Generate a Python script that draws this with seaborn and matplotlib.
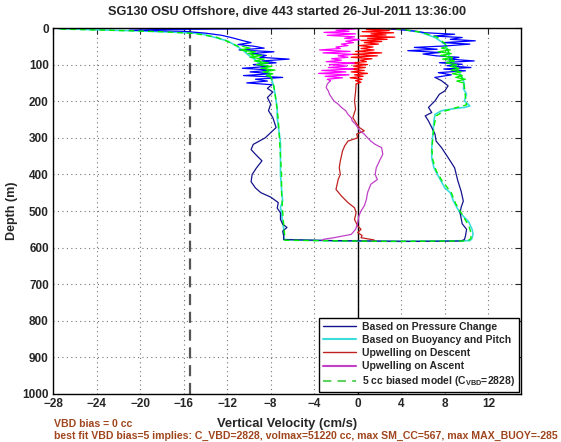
import matplotlib
matplotlib.use("Agg")
import matplotlib.pyplot as plt
import seaborn as sns
from matplotlib.lines import Line2D

# --- data (depth in m, vertical velocity in cm/s) ---

# pressure-change velocity: noisy upper descent, smooth lower loop, noisy upper ascent
blue_dn_top_d = [0.5, 2, 4, 6, 9, 14, 20, 27, 35, 40, 45, 50, 55, 60, 65, 70, 75, 80, 85, 90,
                 95, 100, 105, 110, 115, 120, 125, 130, 135, 140, 145, 150, 155]
blue_dn_top_v = [-2, -9, -18, -21, -16, -14, -12.5, -11.5, -10.5, -9.8, -11.0, -9.5, -8.6, -10.9,
                 -7.7, -9.8, -8.4, -9.0, -6.3, -8.8, -7.5, -9.6, -8.2, -10.6, -7.9, -9.9, -8.0,
                 -10.5, -6.9, -9.4, -8.3, -10.2, -7.9]
blue_lo_d = [155, 165, 175, 190, 208, 226, 245, 272, 300, 318, 332, 345, 363, 382, 400, 420, 437,
             450, 462, 477, 492, 505, 523, 536, 545, 555, 568, 578, 581, 583, 582, 578, 568, 550,
             535, 520, 505, 490, 473, 446, 418, 382, 354, 327, 309, 290, 272, 254, 240, 231, 217,
             199, 181, 172, 158, 144, 135]
blue_lo_v = [-7.9, -8.3, -7.8, -8.3, -8.0, -8.2, -7.8, -7.5, -8.5, -9.6, -9.8, -9.4, -8.8, -9.3,
             -9.7, -9.8, -9.4, -8.9, -8.0, -7.3, -7.4, -7.1, -7.1, -6.9, -6.5, -6.9, -6.8, -6.8,
             -2.0, 5.0, 9.5, 9.8, 9.9, 10.0, 9.6, 9.5, 9.4, 9.5, 9.7, 9.5, 9.2, 8.9, 8.3, 7.7,
             7.2, 7.1, 6.8, 6.5, 6.2, 6.8, 6.5, 7.1, 7.5, 8.0, 8.3, 7.7, 7.1]
blue_up_top_d = [135, 128, 122, 117, 112, 108, 103, 99, 95, 90, 85, 80, 76, 71, 67, 62, 58, 53,
                 49, 44, 40, 35, 31, 26, 22, 17, 13, 9, 5, 2, 0.5]
blue_up_top_v = [7.1, 8.6, 7.4, 9.9, 7.9, 10.4, 8.2, 9.6, 7.5, 10.7, 8.4, 9.3, 7.2, 6.0, 7.6,
                 4.6, 7.3, 5.2, 8.1, 10.3, 7.8, 10.8, 8.5, 9.6, 7.0, 8.9, 6.2, 5.4, 4.0, 2.5, 0.5]

# buoyancy-and-pitch velocity
cyan_d = [2, 3, 5, 8, 12, 15, 25, 35, 48, 62, 75, 85, 97, 108, 122, 135, 150, 163, 180, 199,
          220, 245, 270, 290, 315, 336, 370, 400, 440, 473, 490, 505, 530, 550, 565, 578, 582,
          583, 581, 575, 562, 550, 530, 505, 490, 473, 450, 437, 410, 382, 356, 327, 290, 254,
          236, 226, 220, 217, 213, 199, 181, 165, 153, 135, 117, 99, 80, 62, 44, 26, 12, 3, 1]
cyan_v = [-27.5, -26, -24, -20, -16.5, -14.5, -13.2, -12, -11.2, -10.5, -10, -9.5, -9.0, -8.6,
          -8.3, -8.0, -7.8, -7.7, -7.6, -7.5, -7.4, -7.4, -7.3, -7.2, -7.1, -7.1, -7.1, -7.1,
          -7.0, -6.9, -7.1, -7.0, -6.9, -6.8, -6.8, -6.8, -2, 4, 10.3, 10.5, 10.6, 10.5, 10.2,
          9.4, 9.1, 8.8, 8.5, 8.0, 7.5, 7.0, 6.8, 6.8, 6.9, 7.0, 7.1, 7.7, 8.9, 9.8, 10.3, 9.8,
          10.0, 9.7, 9.8, 9.6, 9.2, 8.6, 8.4, 8.3, 8.0, 7.1, 5.8, 4.0, 2.0]

# 5 cc biased model
model_d = [3, 6, 10, 15, 25, 35, 50, 65, 80, 100, 120, 140, 160, 200, 250, 300, 350, 400, 450,
           500, 540, 570, 580, 583, 582, 575, 560, 540, 510, 480, 450, 420, 390, 360, 330, 300,
           270, 240, 228, 218, 210, 190, 160, 130, 100, 70, 45, 25, 12, 4, 1]
model_v = [-27.3, -23, -18, -15, -13, -12.1, -11.0, -10.2, -9.4, -8.7, -8.2, -7.9, -7.7, -7.5,
           -7.3, -7.2, -7.1, -7.0, -7.0, -6.9, -6.8, -6.7, -6.7, 3, 10.1, 10.4, 10.4, 10.2, 9.6,
           9.0, 8.6, 7.8, 7.2, 6.9, 6.8, 6.9, 7.0, 7.2, 7.9, 9.0, 10.0, 9.9, 9.8, 9.5, 8.9, 8.4,
           8.1, 7.3, 5.9, 4.2, 2.0]
green_dn_d = [50, 55, 60, 65, 70, 75, 80, 85, 90, 95, 100, 105, 110, 115, 120, 125, 130, 135]
green_dn_v = [-10.6, -9.9, -10.8, -9.4, -10.1, -8.8, -9.9, -8.6, -9.5, -8.2, -9.3, -7.9, -8.9,
              -7.6, -8.7, -7.8, -8.4, -7.9]
green_up_d = [150, 145, 140, 135, 130, 125, 120, 115, 110, 105, 100, 95, 90, 85, 80, 75, 70, 65,
              60, 55, 50]
green_up_v = [9.7, 9.1, 9.9, 9.0, 9.6, 8.7, 9.5, 8.6, 9.3, 8.5, 9.1, 8.1, 8.9, 7.8, 8.7, 7.6,
              8.6, 7.4, 8.5, 7.7, 8.2]

# upwelling on descent
red_top_d = [0.5, 1, 2, 4, 7, 10, 13, 16, 19, 22, 25, 28, 31, 34, 37, 40, 44, 48, 52, 56, 60,
             64, 68, 72, 76, 80, 84, 88, 92, 96, 100, 104, 108, 112, 116, 120, 124, 128, 132,
             136, 140, 144, 148, 153]
red_top_v = [15.5, 6.0, 2.0, 0.8, 2.9, 0.4, 3.3, 1.2, 2.6, 0.2, 3.4, 0.9, 2.7, 0.3, 2.2, 0.6,
             1.9, 0.1, 1.4, 0.3, 1.5, -0.2, 2.2, -0.5, 1.8, -0.6, 1.3, 0.2, 0.8, -0.9, 0.9, -0.4,
             0.7, -0.8, 0.6, -0.6, 0.9, -0.3, 0.5, -0.7, 0.4, -0.2, 0.3, -0.15]
red_lo_d = [153, 175, 199, 222, 245, 262, 272, 281, 290, 300, 309, 322, 336, 350, 363, 382, 400,
            414, 428, 441, 459, 468, 477, 491, 505, 523, 541, 550, 559, 567, 573, 579]
red_lo_v = [-0.15, -0.2, -0.3, -0.2, -0.45, -0.1, 0.15, 0.6, -0.1, 0.0, -0.9, -1.2, -1.4, -1.5,
            -1.6, -1.7, -1.6, -1.8, -1.9, -2.0, -1.5, -1.2, -0.9, -0.3, -0.15, -0.3, 0.0, 0.3,
            0.0, 0.4, 0.3, 1.5]

# upwelling on ascent
mag_lo_d = [580, 577, 573, 564, 550, 532, 514, 500, 486, 468, 450, 427, 414, 400, 382, 363, 345,
            327, 318, 309, 300, 290, 281, 272, 263, 254, 245, 236, 226, 217, 208, 199, 190, 181,
            172, 163, 153, 144]
mag_lo_v = [-3.3, -3.1, -2.2, -0.6, -0.2, 0.0, 0.1, 0.3, 0.6, 0.8, 0.9, 1.2, 1.8, 1.6, 1.7, 2.0,
            2.3, 2.2, 1.6, 1.2, 0.9, 0.6, 0.2, 0.0, -0.2, -0.5, -0.6, -0.9, -1.1, -1.5, -1.8,
            -2.2, -2.4, -2.6, -2.7, -2.9, -2.8, -2.5]
mag_top_d = [144, 140, 136, 132, 128, 124, 120, 116, 112, 108, 104, 100, 96, 92, 88, 84, 80, 76,
             72, 68, 64, 60, 56, 52, 48, 44, 40, 36, 32, 28, 24, 20, 16, 12, 9, 6, 3, 1]
mag_top_v = [-2.5, -2.8, -1.4, -3.0, -0.8, -3.6, -1.1, -3.3, -0.4, -2.7, -1.0, -2.6, -0.3, -2.9,
             -1.5, -2.4, -0.9, -1.8, -0.5, -3.2, -0.7, -3.5, -1.6, -2.0, -0.9, -1.5, -0.4, -1.1,
             0.2, -1.2, -0.3, -2.8, -0.2, -3.1, -0.8, -2.0, -0.5, 0.0]

vbd_line_x = -15.4
xtick_vals = [-28, -24, -20, -16, -12, -8, -4, 0, 4, 8, 12]
ytick_vals = [0, 100, 200, 300, 400, 500, 600, 700, 800, 900, 1000]

legend_labels = ["Based on Pressure Change", "Based on Buoyancy and Pitch",
                 "Upwelling on Descent", "Upwelling on Ascent",
                 r"5 cc biased model (C$_{\mathbf{VBD}}$=2828)"]

title = "SG130 OSU Offshore, dive 443 started 26-Jul-2011 13:36:00"
note1 = "VBD bias = 0 cc"
note2 = ("best fit VBD bias=5 implies: C_VBD=2828, volmax=51220 cc, "
         "max SM_CC=567, max MAX_BUOY=-285")

# --- styling ---
sns.set_style("white")
plt.rcParams['font.family'] = ['Liberation Sans', 'DejaVu Sans']
plt.rcParams['font.weight'] = 'bold'
plt.rcParams['mathtext.fontset'] = 'custom'
plt.rcParams['mathtext.rm'] = 'Liberation Sans:bold'
plt.rcParams['mathtext.bf'] = 'Liberation Sans:bold'

c_blue, c_blue_hi = "#14148c", "#0000ff"
c_cyan = "#3ddcdc"
c_green = "#5fd35f"
c_green_hi = "#00ee00"
c_red, c_red_hi = "#c02020", "#ff0000"
c_mag, c_mag_hi = "#c040c8", "#ff00ff"

fig = plt.figure(figsize=(5.61, 4.42), dpi=100)
ax = fig.add_axes([53 / 561, 1 - 394 / 442, (521 - 53) / 561, (394 - 28) / 442])


def trace(vel, depth, color, lw=0.9, ls="-"):
    sns.lineplot(x=vel, y=depth, sort=False, estimator=None, color=color,
                 lw=lw, linestyle=ls, ax=ax)


ax.axvline(vbd_line_x, color="#555555", lw=1.6, ls=(0, (5, 3)))
ax.axvline(0, color="black", lw=1.0)

trace(cyan_v, cyan_d, c_cyan, lw=1.2)
trace(blue_lo_v, blue_lo_d, c_blue)
trace(blue_dn_top_v, blue_dn_top_d, c_blue_hi)
trace(blue_up_top_v, blue_up_top_d, c_blue_hi)
trace(green_dn_v, green_dn_d, c_green_hi)
trace(green_up_v, green_up_d, c_green_hi)
trace(model_v, model_d, c_green_hi, lw=1.0, ls=(0, (4, 3)))
trace(red_lo_v, red_lo_d, c_red)
trace(red_top_v, red_top_d, c_red_hi)
trace(mag_lo_v, mag_lo_d, c_mag)
trace(mag_top_v, mag_top_d, c_mag_hi)

ax.set_xlim(-28, 15)
ax.set_ylim(1000, 0)
ax.set_xticks(xtick_vals)
ax.set_yticks(ytick_vals)
ax.set_xlabel("")
ax.set_ylabel("")
ax.grid(True, linestyle=(0, (1, 3)), color="#777777", lw=0.8)
ax.tick_params(direction="in", top=True, right=True, length=4, width=0.8,
               labelsize=8.5, pad=3)
for lab in ax.get_xticklabels() + ax.get_yticklabels():
    lab.set_fontweight("bold")
for sp in ax.spines.values():
    sp.set_color("black")
    sp.set_linewidth(1.0)

handles = [Line2D([], [], color=c_blue, lw=1.0),
           Line2D([], [], color=c_cyan, lw=1.5),
           Line2D([], [], color=c_red, lw=1.0),
           Line2D([], [], color=c_mag, lw=1.5),
           Line2D([], [], color=c_green, lw=1.5, ls=(0, (4, 3)))]
leg = ax.legend(handles, legend_labels, loc="lower right", fontsize=7.5,
                frameon=True, fancybox=False, framealpha=1, edgecolor="black",
                handlelength=3.2, handletextpad=0.6, labelspacing=0.3,
                borderpad=0.35, borderaxespad=0.2)
leg.get_frame().set_linewidth(1.0)
leg.set_zorder(20)
for t in leg.get_texts():
    t.set_fontweight("bold")

fig.text(287 / 561, 1 - 12 / 442, title, ha="center", va="center",
         fontsize=9.2, fontweight="bold")
fig.text(287 / 561, 1 - 424 / 442, "Vertical Velocity (cm/s)", ha="center",
         va="center", fontsize=9.4, fontweight="bold")
fig.text(12 / 561, 1 - 211 / 442, "Depth (m)", ha="center", va="center",
         rotation=90, fontsize=9, fontweight="bold")
fig.text(54 / 561, 1 - 424 / 442, note1, ha="left", va="center",
         fontsize=7.55, fontweight="bold", color="#a0461e")
fig.text(54 / 561, 1 - 436 / 442, note2, ha="left", va="center",
         fontsize=7.55, fontweight="bold", color="#a0461e")

fig.savefig("out.png", dpi=100)
